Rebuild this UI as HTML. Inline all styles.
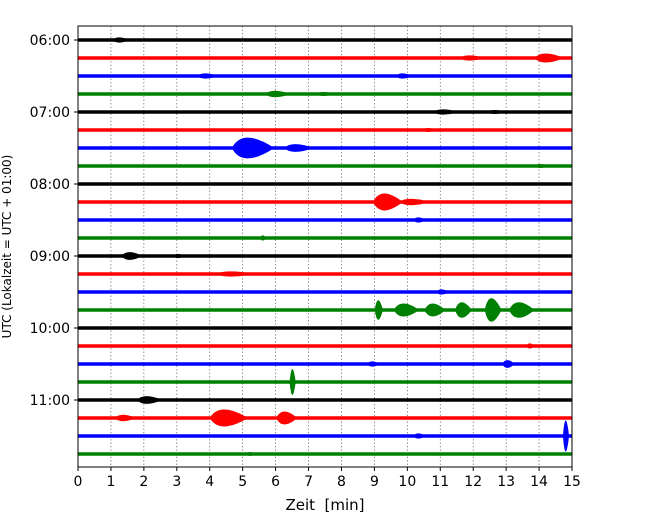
<!DOCTYPE html>
<html><head><meta charset="utf-8"><style>body{margin:0;background:#fff}svg{display:block;font-family:"DejaVu Sans","Liberation Sans",sans-serif}</style></head>
<body>
<svg id="c" width="650" height="520"></svg>
<script>
const rowLabels=["06:00","07:00","08:00","09:00","10:00","11:00"];
const xTicks=[0,1,2,3,4,5,6,7,8,9,10,11,12,13,14,15];
const colors=["#000","#f00","#00f","#008000"];
const rowCount=24;
// events: row, time (min), amplitude, half-duration (min)
const evRow=[0,0,0,1,1,2,2,3,3,4,4,5,6,6,7,9,9,9,10,11,12,12,13,14,15,15,15,15,15,15,17,18,18,19,20,21,21,21,22,22,23];
const evTime=[1.2,2.6,11.7,11.8,14.1,3.8,9.8,5.9,7.4,11,12.6,10.6,5,6.5,14,9.2,10,10.3,10.3,5.6,1.5,3,4.5,11,9.1,9.8,10.7,11.6,12.5,13.3,13.7,8.9,13,6.5,2,1.3,4.3,6.2,10.3,14.8,5.2];
const evAmp=[4,2,2,4,7,4,4,5,3,4,3,3,16,6,3,13,5,4,4,4,6,3,4,4,15,10,10,12,18,12,4,4,6,20,6,5,13,10,4,24,3];
const evDur=[0.3,0.2,0.1,0.5,0.6,0.4,0.3,0.5,0.3,0.5,0.3,0.2,0.9,0.6,0.2,0.6,0.6,0.2,0.2,0.05,0.4,0.2,0.8,0.2,0.1,0.5,0.4,0.3,0.3,0.5,0.1,0.2,0.2,0.05,0.5,0.4,0.8,0.4,0.2,0.05,0.1];
const L=78,R=572,T=26,B=467;
const xs=t=>L+(R-L)*t/15;
const ys=r=>40+18*r;
const NS="http://www.w3.org/2000/svg",svg=document.getElementById('c');
function el(tag,attrs,txt){const e=document.createElementNS(NS,tag);for(const k in attrs)e.setAttribute(k,attrs[k]);if(txt!==undefined)e.textContent=txt;svg.appendChild(e);return e;}
xTicks.forEach(t=>{if(t>0&&t<15){const g=el('line',{x1:xs(t),x2:xs(t),y1:T,y2:B,stroke:'#666','stroke-width':0.7,'stroke-dasharray':'1.5,2'});

}
const tk=el('line',{x1:xs(t),x2:xs(t),y1:B,y2:B+4,stroke:'#000'});


const lb=el('text',{x:xs(t),y:B+19,'text-anchor':'middle','font-size':14},String(t));

});
for(let r=0;r<rowCount;r++){const ln=el('line',{x1:L,x2:R,y1:ys(r),y2:ys(r),stroke:colors[r%4],'stroke-width':3.5});

}
evTime.forEach((t,i)=>{const r=evRow[i],y=ys(r),a=evAmp[i],d=evDur[i];
const x0=xs(t-d*0.3),x1=xs(t),x2=xs(t+d);
const p=el('path',{d:`M${x0-2},${y} Q${x1},${y-a*1.3} ${x2+2},${y} Q${x1},${y+a*1.3} ${x0-2},${y}Z`,fill:colors[r%4]});

});
rowLabels.forEach((s,i)=>{const y=ys(i*4);
const tk=el('line',{x1:L-4,x2:L,y1:y,y2:y,stroke:'#000'});


const lb=el('text',{x:L-8,y:y+5,'text-anchor':'end','font-size':14},s);

});
const fr=el('rect',{x:L,y:T,width:R-L,height:B-T,fill:'none',stroke:'#000','stroke-width':1});


const xt=el('text',{x:(L+R)/2,y:510,'text-anchor':'middle','font-size':15,style:'white-space:pre'},'Zeit  [min]');


const yt=el('text',{x:0,y:0,'text-anchor':'middle','font-size':12,transform:`translate(11,${(T+B)/2}) rotate(-90)`},'UTC (Lokalzeit = UTC + 01:00)');


</script>
</body></html>
